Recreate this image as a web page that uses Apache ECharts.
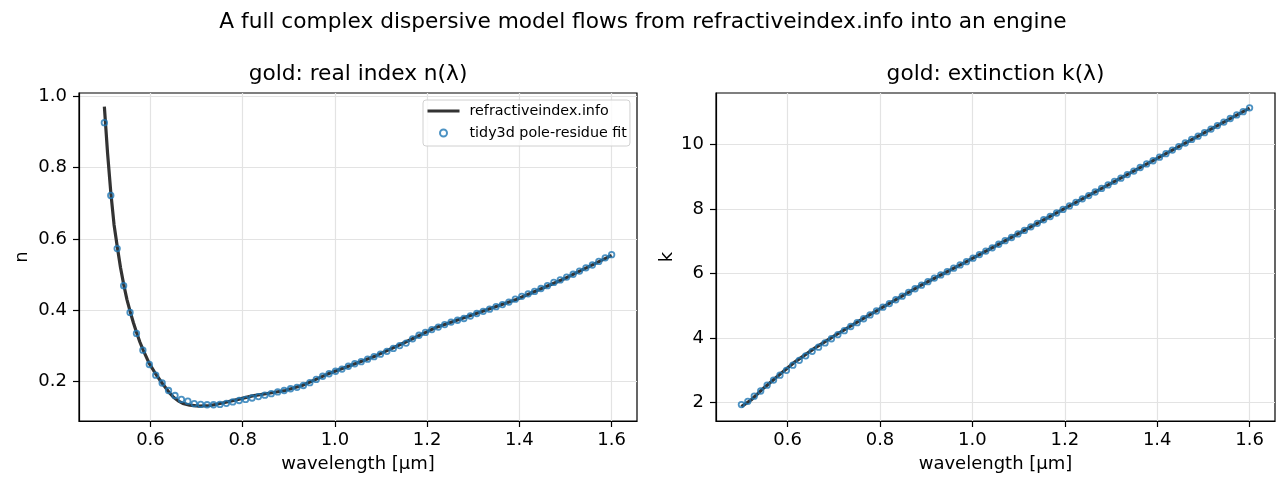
<!DOCTYPE html>
<html>
<head>
<meta charset="UTF-8">
<title>gold: n and k</title>
<script src="https://cdn.jsdelivr.net/npm/echarts@6/dist/echarts.min.js"></script>
<style>
    html, body { margin: 0; padding: 0; background: #fff; }
    #main { width: 1287px; height: 490px; }
</style>
</head>
<body>
<div id="main"></div>
<script>
// wavelength grid of the pole-residue fit [um]
var fitWl = [
    0.5000, 0.5139, 0.5278, 0.5418, 0.5557, 0.5696, 0.5835, 0.5975, 0.6114, 0.6253,
    0.6392, 0.6532, 0.6671, 0.6810, 0.6949, 0.7089, 0.7228, 0.7367, 0.7506, 0.7646,
    0.7785, 0.7924, 0.8063, 0.8203, 0.8342, 0.8481, 0.8620, 0.8759, 0.8899, 0.9038,
    0.9177, 0.9316, 0.9456, 0.9595, 0.9734, 0.9873, 1.0013, 1.0152, 1.0291, 1.0430,
    1.0570, 1.0709, 1.0848, 1.0987, 1.1127, 1.1266, 1.1405, 1.1544, 1.1684, 1.1823,
    1.1962, 1.2101, 1.2241, 1.2380, 1.2519, 1.2658, 1.2797, 1.2937, 1.3076, 1.3215,
    1.3354, 1.3494, 1.3633, 1.3772, 1.3911, 1.4051, 1.4190, 1.4329, 1.4468, 1.4608,
    1.4747, 1.4886, 1.5025, 1.5165, 1.5304, 1.5443, 1.5582, 1.5722, 1.5861, 1.6000
];
var fitN = [
    0.926, 0.722, 0.573, 0.469, 0.394, 0.335, 0.288, 0.248, 0.218, 0.196,
    0.175, 0.161, 0.150, 0.145, 0.138, 0.136, 0.135, 0.135, 0.136, 0.139,
    0.143, 0.147, 0.150, 0.154, 0.158, 0.162, 0.166, 0.171, 0.175, 0.180,
    0.184, 0.189, 0.197, 0.206, 0.215, 0.222, 0.229, 0.235, 0.243, 0.250,
    0.256, 0.263, 0.270, 0.277, 0.285, 0.293, 0.301, 0.308, 0.320, 0.330,
    0.338, 0.346, 0.353, 0.360, 0.367, 0.372, 0.377, 0.384, 0.391, 0.397,
    0.403, 0.410, 0.416, 0.423, 0.431, 0.439, 0.446, 0.453, 0.461, 0.469,
    0.478, 0.485, 0.493, 0.501, 0.510, 0.519, 0.527, 0.537, 0.547, 0.556
];
var fitK = [
    1.94, 2.04, 2.20, 2.36, 2.54, 2.70, 2.85, 3.00, 3.16, 3.31,
    3.45, 3.59, 3.72, 3.85, 3.98, 4.11, 4.23, 4.36, 4.48, 4.60,
    4.72, 4.84, 4.96, 5.07, 5.19, 5.30, 5.42, 5.53, 5.64, 5.75,
    5.86, 5.96, 6.06, 6.17, 6.27, 6.37, 6.48, 6.59, 6.70, 6.80,
    6.91, 7.02, 7.12, 7.23, 7.34, 7.45, 7.56, 7.67, 7.77, 7.88,
    7.99, 8.10, 8.21, 8.32, 8.42, 8.53, 8.64, 8.75, 8.86, 8.96,
    9.07, 9.18, 9.29, 9.40, 9.50, 9.61, 9.72, 9.83, 9.94, 10.05,
    10.16, 10.26, 10.37, 10.48, 10.59, 10.70, 10.81, 10.92, 11.02, 11.14
];

// refractiveindex.info curve, n
var refWlN = [
    0.500, 0.507, 0.514, 0.521, 0.528, 0.535, 0.542, 0.549, 0.556, 0.563,
    0.570, 0.577, 0.584, 0.597, 0.611, 0.625, 0.639, 0.650, 0.660, 0.670,
    0.685, 0.705, 0.730, 0.756, 0.790, 0.821, 0.860, 0.892, 0.930, 0.960,
    0.984, 1.035, 1.088, 1.150, 1.216, 1.300, 1.393, 1.500, 1.600
];
var refN = [
    0.971, 0.840, 0.730, 0.640, 0.578, 0.520, 0.472, 0.430, 0.396, 0.365,
    0.337, 0.311, 0.289, 0.252, 0.222, 0.196, 0.172, 0.156, 0.146, 0.139,
    0.134, 0.131, 0.133, 0.140, 0.150, 0.160, 0.168, 0.175, 0.190, 0.207,
    0.221, 0.246, 0.272, 0.309, 0.350, 0.388, 0.430, 0.490, 0.554
];
// refractiveindex.info curve, k
var refWlK = [0.5, 0.5209, 0.5486, 0.5821, 0.6168, 0.6595, 0.7045, 0.756, 0.8211, 0.892, 0.984, 1.088, 1.216, 1.393, 1.6];
var refK   = [1.874, 2.081, 2.455, 2.863, 3.272, 3.697, 4.103, 4.542, 5.083, 5.663, 6.350, 7.150, 8.145, 9.519, 11.132];

// tick labels
var xTicks = [0.6, 0.8, 1.0, 1.2, 1.4, 1.6];
var nTicks = [0.2, 0.4, 0.6, 0.8, 1.0];
var kTicks = [2, 4, 6, 8, 10];

var FONT = 'DejaVu Sans';
var TICK_SIZE = 18;
var LINE_COLOR = '#333333';
var FIT_COLOR = '#1f77b4';

function pairs(xs, ys) {
    return xs.map(function (x, i) { return [x, ys[i]]; });
}

function axis(opt) {
    return {
        type: 'value',
        gridIndex: opt.grid,
        min: opt.min,
        max: opt.max,
        name: opt.name,
        nameLocation: 'middle',
        nameGap: opt.nameGap,
        nameTextStyle: { fontFamily: FONT, fontSize: TICK_SIZE, color: '#000' },
        axisLine: { show: true, onZero: false, lineStyle: { color: '#000', width: 1.2 } },
        axisTick: { show: true, length: 6, customValues: opt.ticks, lineStyle: { color: '#000', width: 1.2 } },
        axisLabel: {
            customValues: opt.ticks,
            margin: opt.margin,
            fontFamily: FONT, fontSize: TICK_SIZE, color: '#000',
            formatter: opt.fmt
        },
        splitLine: { show: true, lineStyle: { color: '#e3e3e3', width: 1.2 } }
    };
}

function fmt1(v) { return v.toFixed(1); }
function fmt0(v) { return v.toFixed(0); }

function refSeries(ax, data) {
    return {
        name: 'refractiveindex.info', type: 'line', xAxisIndex: ax, yAxisIndex: ax,
        data: data, symbol: 'none', showSymbol: false, z: 2,
        lineStyle: { color: LINE_COLOR, width: 3.2 }, itemStyle: { color: LINE_COLOR }
    };
}

function fitSeries(ax, data) {
    return {
        name: 'tidy3d pole-residue fit', type: 'scatter', xAxisIndex: ax, yAxisIndex: ax,
        data: data, symbol: 'circle', symbolSize: 5.5, z: 3,
        itemStyle: { color: 'rgba(0,0,0,0)', borderColor: FIT_COLOR, borderWidth: 1.8 }
    };
}

var chart = echarts.init(document.getElementById('main'));

var option = {
    animation: false,
    graphic: [
        { type: 'text', x: 643, y: 22, style: { text: 'A full complex dispersive model flows from refractiveindex.info into an engine', font: '21.7px "DejaVu Sans"', fill: '#000', align: 'center', verticalAlign: 'middle' } },
        { type: 'text', x: 358, y: 74.5, style: { text: 'gold: real index n(λ)', font: '21.7px "DejaVu Sans"', fill: '#000', align: 'center', verticalAlign: 'middle' } },
        { type: 'text', x: 995.5, y: 74.5, style: { text: 'gold: extinction k(λ)', font: '21.7px "DejaVu Sans"', fill: '#000', align: 'center', verticalAlign: 'middle' } }
    ],
    legend: {
        data: [
            { name: 'refractiveindex.info', itemStyle: { opacity: 0 }, lineStyle: { color: LINE_COLOR, width: 3 } },
            { name: 'tidy3d pole-residue fit' }
        ],
        orient: 'vertical',
        left: 423,
        top: 100,
        itemWidth: 32,
        itemHeight: 7,
        itemGap: 6,
        padding: [3, 3, 5, 3],
        borderColor: '#d0d0d0',
        borderWidth: 1,
        borderRadius: 3,
        backgroundColor: 'rgba(255,255,255,0.8)',
        textStyle: { fontFamily: FONT, fontSize: 14.3, color: '#000', lineHeight: 16, padding: [0, 0, 0, 5] }
    },
    grid: [
        { left: 79, right: 650, top: 93, bottom: 69, show: true, borderColor: '#000', borderWidth: 1.2, backgroundColor: 'transparent' },
        { left: 716, right: 12, top: 93, bottom: 69, show: true, borderColor: '#000', borderWidth: 1.2, backgroundColor: 'transparent' }
    ],
    xAxis: [
        axis({ grid: 0, min: 0.445, max: 1.655, ticks: xTicks, fmt: fmt1, name: 'wavelength [µm]', nameGap: 34, margin: 10 }),
        axis({ grid: 1, min: 0.445, max: 1.655, ticks: xTicks, fmt: fmt1, name: 'wavelength [µm]', nameGap: 34, margin: 10 })
    ],
    yAxis: [
        axis({ grid: 0, min: 0.0895, max: 1.0093, ticks: nTicks, fmt: fmt1, name: 'n', nameGap: 48, margin: 12 }),
        axis({ grid: 1, min: 1.43, max: 11.6, ticks: kTicks, fmt: fmt0, name: 'k', nameGap: 40, margin: 12 })
    ],
    series: [
        refSeries(0, pairs(refWlN, refN)),
        fitSeries(0, pairs(fitWl, fitN)),
        refSeries(1, pairs(refWlK, refK)),
        fitSeries(1, pairs(fitWl, fitK))
    ]
};

chart.setOption(option);
</script>
</body>
</html>
